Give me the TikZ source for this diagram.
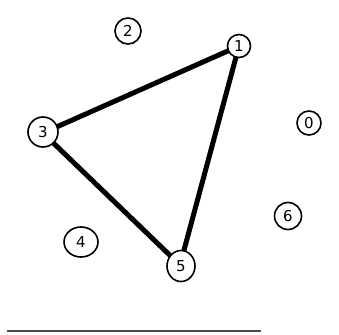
\documentclass[tikz,border=0pt]{standalone}
\usepackage{fontspec}
\setmainfont{DejaVu Sans}
\usetikzlibrary{shapes.geometric}
\begin{document}
\begin{tikzpicture}[x=1pt,y=-1pt,
  vtx/.style={draw=black, line width=1.6pt, circle, inner sep=0pt, fill=white, font=\fontsize{15}{15}\selectfont},
  edge/.style={line width=5pt, black}]
\useasboundingbox (0,0) rectangle (339,334);
\draw[edge] (239,46) -- (43,133) -- (180,265) -- cycle;
\node[vtx, minimum size=23pt] (n1) at (239,46) {1};
\node[vtx, minimum size=26pt] (n2) at (128,31) {2};
\node[vtx, minimum size=30pt] (n3) at (43,132) {3};
\node[vtx, minimum size=24pt] (n0) at (309,123) {0};
\node[vtx, minimum size=27pt] (n6) at (288,216) {6};
\node[vtx, ellipse, minimum width=34pt, minimum height=30pt] (n4) at (81,242) {4};
\node[vtx, ellipse, minimum width=28pt, minimum height=31pt] (n5) at (181,266) {5};
\draw[line width=1.3pt, black!70] (7,331) coordinate (la) -- (261,331) coordinate (lb);
\end{tikzpicture}
\end{document}
